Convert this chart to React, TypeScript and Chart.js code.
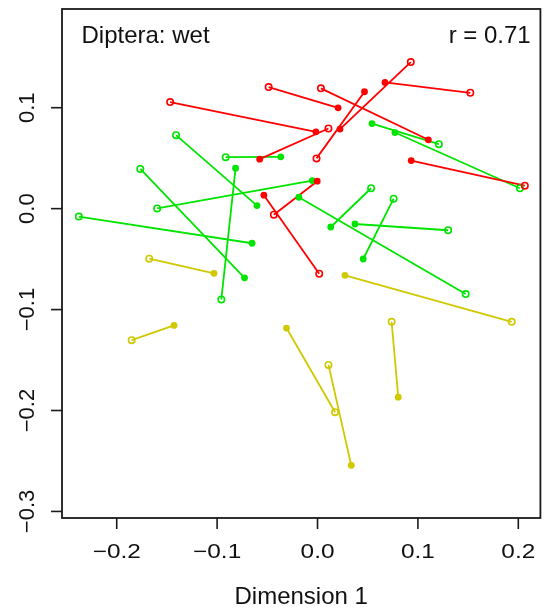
import React, { useEffect, useRef } from "react";
import { Chart, registerables } from "chart.js";

Chart.register(...registerables);

// Segment endpoints: open circle (start) -> filled dot (end), per group
const redOpenX = [-0.1468, -0.0487, 0.0034, 0.1522, 0.0929, 0.0109, -0.001, 0.2065, 0.0017, -0.0435];
const redOpenY = [0.1056, 0.1204, 0.1192, 0.1148, 0.1452, 0.0794, 0.0498, 0.0228, -0.0645, -0.006];
const redFillX = [-0.0016, 0.0205, 0.1104, 0.0672, 0.0224, -0.0576, 0.0468, 0.0933, -0.0534, -0.0003];
const redFillY = [0.0761, 0.0999, 0.0682, 0.125, 0.0788, 0.049, 0.1158, 0.0476, 0.0133, 0.0272];

const greenOpenX = [-0.1409, -0.0915, -0.1765, -0.1597, -0.2377, -0.0958, 0.0534, 0.1301, 0.0758, 0.1209, 0.2016, 0.1476];
const greenOpenY = [0.0728, 0.051, 0.0394, 0.0002, -0.0079, -0.0899, 0.0202, -0.0214, 0.0099, 0.0639, 0.0202, -0.0846];
const greenFillX = [-0.0603, -0.0366, -0.0727, -0.0052, -0.0652, -0.0816, 0.0132, 0.0373, 0.0455, 0.0543, 0.0771, -0.0186];
const greenFillY = [0.003, 0.0513, -0.0685, 0.0278, -0.0343, 0.0401, -0.0182, -0.0152, -0.0499, 0.0843, 0.0754, 0.0113];

const yellowOpenX = [-0.1676, -0.1851, 0.0175, 0.0109, 0.0738, 0.1934];
const yellowOpenY = [-0.0496, -0.1303, -0.2017, -0.1548, -0.1121, -0.1121];
const yellowFillX = [-0.1031, -0.1429, -0.0309, 0.0336, 0.0804, 0.0274];
const yellowFillY = [-0.0641, -0.1157, -0.1183, -0.2543, -0.1868, -0.0661];

const xTicks = [-0.2, -0.1, 0.0, 0.1, 0.2];
const yTicks = [-0.3, -0.2, -0.1, 0.0, 0.1];
const xTickLabels = ["\u22120.2", "\u22120.1", "0.0", "0.1", "0.2"];
const yTickLabels = ["\u22120.3", "\u22120.2", "\u22120.1", "0.0", "0.1"];

const xTitle = "Dimension 1";
const panelLabel = "Diptera: wet";
const corrLabel = "r = 0.71";

const RED = "#ff0000";
const GREEN = "#00e400";
const YELLOW = "#d0c800";
const FONT = '"Liberation Sans", Arial, Helvetica, sans-serif';

type Pt = { x: number; y: number };

function zipPts(xs: number[], ys: number[]): Pt[] {
  return xs.map((x, i) => ({ x, y: ys[i] }));
}

function buildDatasets() {
  const groups = [
    { color: RED, ox: redOpenX, oy: redOpenY, fx: redFillX, fy: redFillY },
    { color: GREEN, ox: greenOpenX, oy: greenOpenY, fx: greenFillX, fy: greenFillY },
    { color: YELLOW, ox: yellowOpenX, oy: yellowOpenY, fx: yellowFillX, fy: yellowFillY },
  ];
  const sets: any[] = [];
  groups.forEach((g) => {
    // connecting segments
    g.ox.forEach((x, i) => {
      sets.push({
        type: "line",
        data: [
          { x, y: g.oy[i] },
          { x: g.fx[i], y: g.fy[i] },
        ],
        borderColor: g.color,
        borderWidth: 1.8,
        pointRadius: 0,
        fill: false,
        tension: 0,
        order: 3,
      });
    });
    // open circles
    sets.push({
      type: "scatter",
      data: zipPts(g.ox, g.oy),
      pointStyle: "circle",
      pointRadius: 3.2,
      pointBorderWidth: 1.6,
      pointBorderColor: g.color,
      pointBackgroundColor: "rgba(0,0,0,0)",
      order: 2,
    });
    // filled dots
    sets.push({
      type: "scatter",
      data: zipPts(g.fx, g.fy),
      pointStyle: "circle",
      pointRadius: 3.4,
      pointBorderWidth: 0,
      pointBackgroundColor: g.color,
      order: 1,
    });
  });
  return sets;
}

// Base-graphics style frame, ticks and labels drawn from the chart's scales
const frameAxes = {
  id: "frameAxes",
  afterDraw(chart: any) {
    const { ctx, chartArea, scales } = chart;
    const { left, right, top, bottom } = chartArea;
    const xs = scales.x;
    const ys = scales.y;
    ctx.save();
    ctx.strokeStyle = "#1a1a1a";
    ctx.lineWidth = 1.8;
    ctx.strokeRect(left, top, right - left, bottom - top);

    ctx.fillStyle = "#111";
    ctx.lineWidth = 1.6;
    ctx.textAlign = "center";
    ctx.textBaseline = "alphabetic";

    // x tick marks and (slightly wide) labels
    ctx.font = `20px ${FONT}`;
    xTicks.forEach((v, i) => {
      const px = xs.getPixelForValue(v);
      ctx.beginPath();
      ctx.moveTo(px, bottom);
      ctx.lineTo(px, bottom + 11);
      ctx.stroke();
      ctx.save();
      ctx.translate(px, 557.5);
      ctx.scale(1.22, 1);
      ctx.fillText(xTickLabels[i], 0, 0);
      ctx.restore();
    });

    // y tick marks and rotated labels
    ctx.font = `22px ${FONT}`;
    yTicks.forEach((v, i) => {
      const py = ys.getPixelForValue(v);
      ctx.beginPath();
      ctx.moveTo(left, py);
      ctx.lineTo(left - 11, py);
      ctx.stroke();
      ctx.save();
      ctx.translate(33.5, py);
      ctx.rotate(-Math.PI / 2);
      ctx.fillText(yTickLabels[i], 0, 0);
      ctx.restore();
    });

    ctx.font = `24px ${FONT}`;
    ctx.fillText(xTitle, (left + right) / 2, 604);

    ctx.textAlign = "left";
    ctx.fillText(panelLabel, 81.5, 42.7);
    ctx.textAlign = "right";
    ctx.fillText(corrLabel, 530.7, 42.7);
    ctx.restore();
  },
};

export default function App() {
  const canvasRef = useRef<HTMLCanvasElement | null>(null);

  useEffect(() => {
    const canvas = canvasRef.current;
    if (!canvas) return;
    const chart = new Chart(canvas, {
      type: "scatter",
      data: { datasets: buildDatasets() },
      options: {
        responsive: false,
        animation: false,
        devicePixelRatio: 1,
        layout: { padding: { left: 62, top: 9, right: 2, bottom: 91 } },
        plugins: {
          legend: { display: false },
          tooltip: { enabled: false },
        },
        scales: {
          x: { type: "linear", min: -0.2545, max: 0.222, display: false },
          y: { type: "linear", min: -0.3065, max: 0.1978, display: false },
        },
      },
      plugins: [frameAxes],
    });
    return () => chart.destroy();
  }, []);

  return (
    <div style={{ position: "absolute", left: 0, top: 0, width: 546, height: 609, background: "#fff" }}>
      <canvas ref={canvasRef} width={546} height={609} />
    </div>
  );
}
